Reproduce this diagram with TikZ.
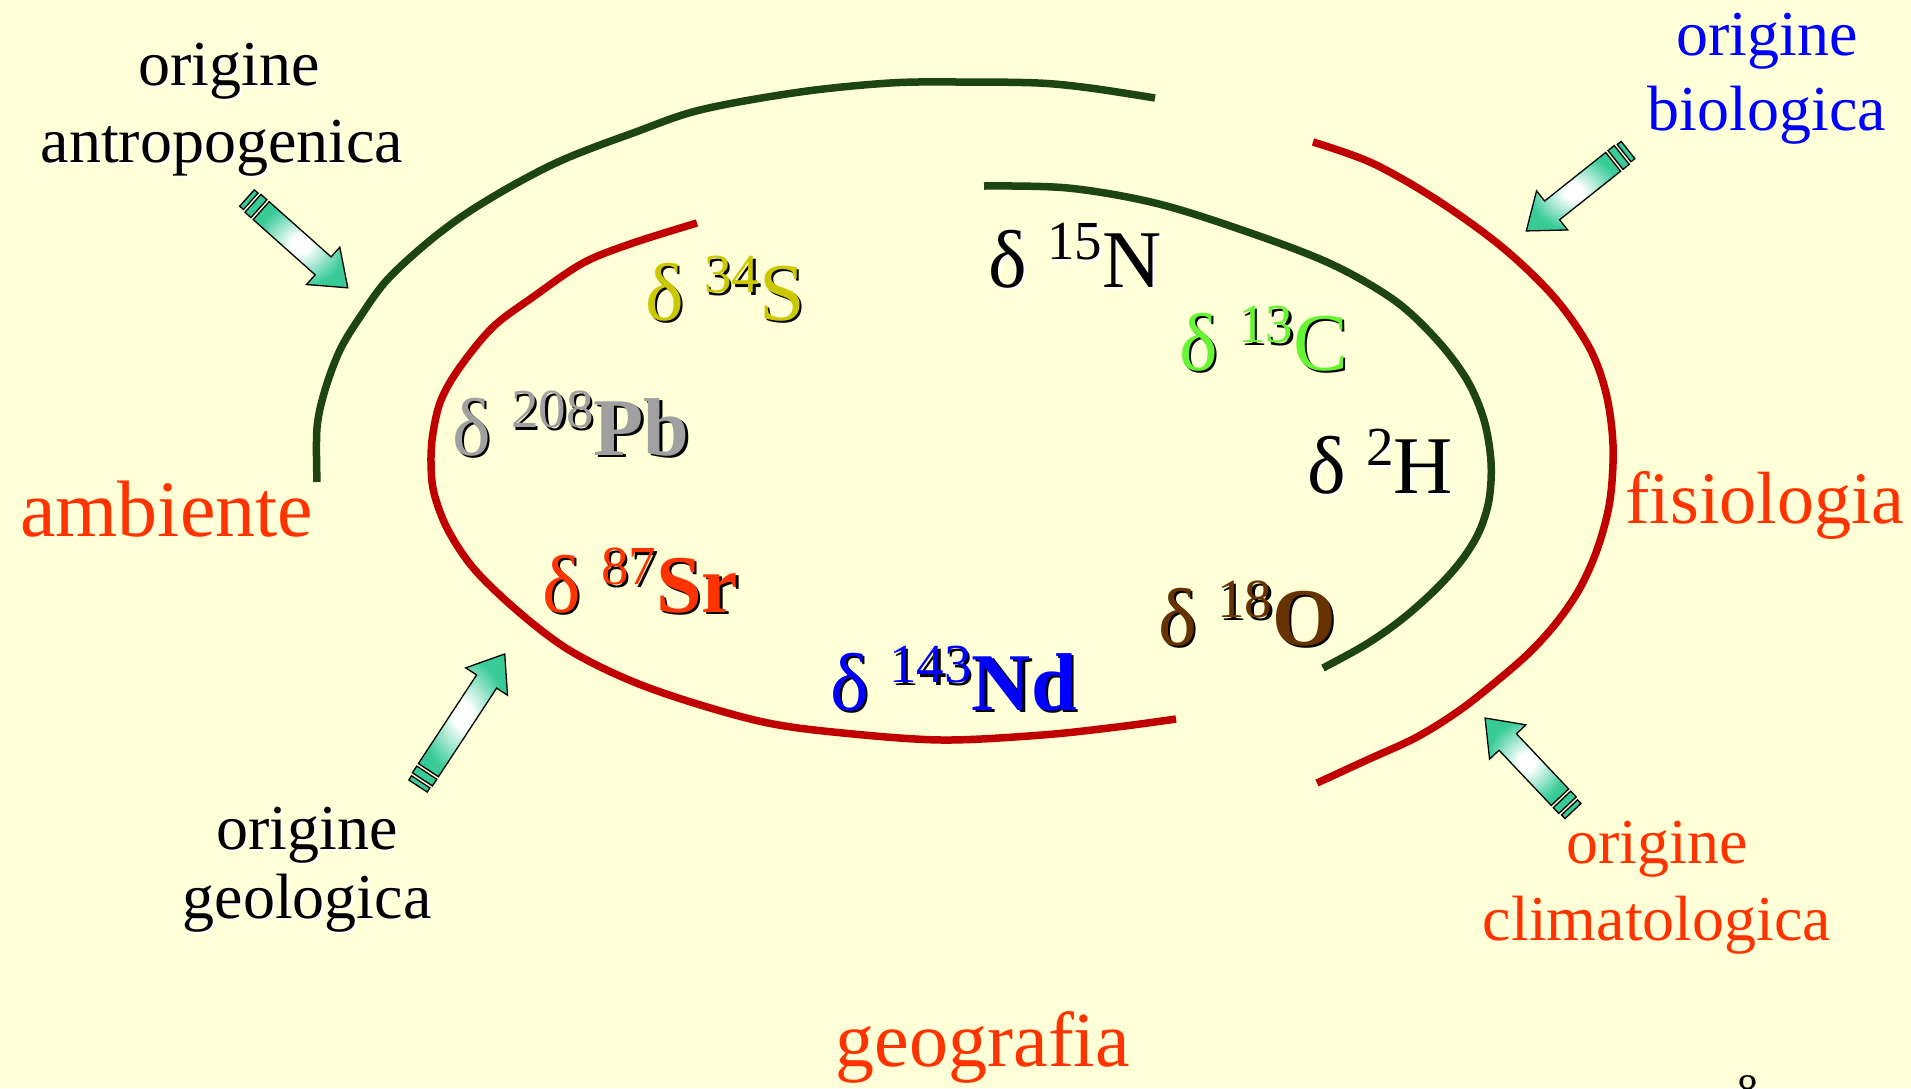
\documentclass[tikz,border=0pt]{standalone}
\usepackage{fontspec}
\setmainfont{Liberation Serif}
\definecolor{bgyellow}{HTML}{FFFFD8}
\definecolor{arcgreen}{HTML}{1C4510}
\definecolor{arcred}{HTML}{C00000}
\definecolor{orred}{HTML}{FF3300}
\definecolor{isoblue}{HTML}{0000FF}
\definecolor{isogreen}{HTML}{66F533}
\definecolor{isoyellow}{HTML}{CCC800}
\definecolor{isogray}{HTML}{A0A0A0}
\definecolor{isobrown}{HTML}{663300}
\definecolor{arrowteal}{HTML}{38CB98}
\pgfdeclareradialshading{arrowglow}{\pgfpoint{0bp}{0bp}}{color(0bp)=(white); color(5bp)=(white); color(24bp)=(arrowteal); color(50bp)=(arrowteal)}
\newcommand\iso[2]{δ \raisebox{0.33em}{\fontsize{55}{60}\selectfont #1}#2}
\newcommand\isopair[5]{%
  \node[iso, text=#4, xshift=2.5pt, yshift=-2.5pt] (#1s) at #2 {#5};
  \node[iso, text=#3] (#1) at #2 {#5};}
\newcommand\blockarrow[4]{%
  \begin{scope}[shift={#2}, rotate=#3]
    \coordinate (#1-tail) at (0,0);
    \coordinate (#1-tip) at (#4,0);
    \filldraw[fill=arrowteal, draw=black, line width=1.3pt]
      (0,-11) -- (5,-11) -- (5,11) -- (0,11) -- cycle;
    \filldraw[fill=arrowteal, draw=black, line width=1.3pt]
      (8,-12) -- (16,-12) -- (16,12) -- (8,12) -- cycle;
    \shadedraw[shading=arrowglow, draw=black, line width=1.3pt]
      (19,-12) -- (#4-33,-12) -- (#4-33,-25) -- (#4,0) -- (#4-33,25) -- (#4-33,12) -- (19,12) -- cycle;
  \end{scope}}
\begin{document}
\begin{tikzpicture}[x=1pt,y=-1pt,
  curvegreen/.style={draw=arcgreen, line width=7.5pt},
  curvered/.style={draw=arcred, line width=7.5pt},
  lbl/.style={inner sep=0, anchor=base, font=\fontsize{64}{70}\selectfont},
  bigl/.style={inner sep=0, font=\fontsize{78}{84}\selectfont, text=orred},
  iso/.style={inner sep=0, anchor=base west, font=\fontsize{82}{90}\selectfont}]
\fill[bgyellow] (0,0) rectangle (1911,1088);
\useasboundingbox (0,0) rectangle (1911,1088);

% outer green arc (left/top)
\draw[curvegreen] plot[smooth, tension=0.55] coordinates {(317,482) (317,428) (325,390) (340,350) (360,317) (387,280) (427,243) (467,213) (517,183) (567,158) (633,133) (700,110) (800,92) (890,83) (960,82) (1038,83) (1090,88) (1155,98)};
% inner red ellipse part
\draw[curvered] plot[smooth, tension=0.55] coordinates {(697,223) (633,243) (583,263) (533,297) (493,327) (460,367) (441,400) (433,433) (431,462) (434,493) (448,530) (475,570) (520,613) (569,650) (629,680) (694,703) (768,723) (843,733) (942,740) (1042,735) (1117,727) (1176,719)};
% inner green arc
\draw[curvegreen] plot[smooth, tension=0.55] coordinates {(984,186) (1068,188) (1155,203) (1242,230) (1329,263) (1394,300) (1437,340) (1467,380) (1484,420) (1491,462) (1489,500) (1479,532) (1461,561) (1435,590) (1401,620) (1365,645) (1323,668)};
% outer red arc
\draw[curvered] plot[smooth, tension=0.55] coordinates {(1313,142) (1372,163) (1437,200) (1502,247) (1554,297) (1589,347) (1606,393) (1613,445) (1610,500) (1598,547) (1580,588) (1557,622) (1530,652) (1498,680) (1460,710) (1417,737) (1367,760) (1317,783)};

% block arrows
\blockarrow{aa}{(247,198)}{-41.7}{135}
\blockarrow{ab}{(1628,150)}{-141.5}{130}
\blockarrow{ag}{(418,786)}{56.7}{158}
\blockarrow{ac}{(1573,811)}{133.4}{128}

% side labels
\node[lbl, text=white, xshift=2pt, yshift=-2pt] (oa1s) at (229,85) {origine};
\node[lbl] (oa1) at (229,85) {origine};
\node[lbl, text=white, xshift=2pt, yshift=-2pt] (oa2s) at (222,162) {antropogenica};
\node[lbl] (oa2) at (222,162) {antropogenica};
\node[lbl, text=isoblue] (ob1) at (1767,55) {origine};
\node[lbl, text=isoblue] (ob2) at (1767,130) {biologica};
\node[lbl, text=white, xshift=2pt, yshift=-2pt] (og1s) at (307,849) {origine};
\node[lbl] (og1) at (307,849) {origine};
\node[lbl, text=white, xshift=2pt, yshift=-2pt] (og2s) at (307,918) {geologica};
\node[lbl] (og2) at (307,918) {geologica};
\node[lbl, text=orred] (oc1) at (1657,863) {origine};
\node[lbl, text=orred] (oc2) at (1657,940) {climatologica};

\node[bigl, anchor=base west, font=\fontsize{80}{86}\selectfont] (amb) at (20,536) {ambiente};
\node[bigl, anchor=base west, font=\fontsize{74}{80}\selectfont] (fis) at (1625,523) {fisiologia};
\node[bigl, anchor=base] (geo) at (983,1066) {geografia};
\node[inner sep=0, anchor=base west, font=\fontsize{42}{46}\selectfont] (pg) at (1737,1103) {8};

% isotopes
\isopair{iN}{(988,287)}{black}{white}{\iso{15}{N}}
\isopair{iC}{(1179,370)}{isogreen}{black}{\iso{13}{C}}
\isopair{iH}{(1307,493)}{black}{white}{\iso{2}{H}}
\isopair{iO}{(1158,645)}{isobrown}{black}{\iso{18}{\textbf{O}}}
\isopair{iNd}{(830,710)}{isoblue}{black}{\iso{143}{\textbf{Nd}}}
\isopair{iSr}{(542,612)}{orred}{black}{\iso{87}{\textbf{Sr}}}
\isopair{iPb}{(452,455)}{isogray}{black}{\iso{208}{\textbf{Pb}}}
\isopair{iS}{(645,320)}{isoyellow}{black}{\iso{34}{S}}
\end{tikzpicture}
\end{document}
